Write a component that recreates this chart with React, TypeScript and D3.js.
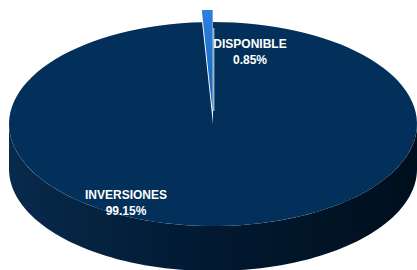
import * as d3 from "d3";
import React from "react";

// chart data
const categories = ["INVERSIONES", "DISPONIBLE"];
const values = [99.15, 0.85];
const percentLabels = ["99.15%", "0.85%"];
const sliceColors = ["#02305a", "#1a6fcf"];

const width = 417;
const height = 270;

const App = () => {
  const cx = 213;
  const cy = 124;
  const rx = 204;
  const ry = 102;
  const depth = 45;
  const explode = 12;

  const pie = d3.pie<number>().sort(null).startAngle(0).endAngle(2 * Math.PI);
  const arcs = pie(values);

  // project an angle (0 = top, clockwise) onto the tilted ellipse
  const px = (a: number, r = 1) => cx + rx * r * Math.sin(a);
  const py = (a: number, r = 1) => cy - ry * r * Math.cos(a);

  const rim = (a0: number, a1: number, dy = 0, n = 120) =>
    d3.range(n + 1).map((i) => {
      const a = a0 + ((a1 - a0) * i) / n;
      return [px(a), py(a) + dy] as [number, number];
    });

  const line = d3.line();

  const topFace = (a0: number, a1: number, ox = 0, oy = 0) => {
    const pts = rim(a0, a1).map(([x, y]) => [x + ox, y + oy] as [number, number]);
    return line([[cx + ox, cy + oy], ...pts]) + "Z";
  };

  // front side wall of the big slice
  const main = arcs[0];
  const s0 = Math.max(main.startAngle, Math.PI / 2);
  const s1 = Math.min(main.endAngle, (3 * Math.PI) / 2);
  const sidePath =
    line([...rim(s0, s1), ...rim(s0, s1, depth).reverse()]) + "Z";

  const small = arcs[1];
  const mid = (small.startAngle + small.endAngle) / 2;
  const ox = explode * Math.sin(mid);
  const oy = -explode * Math.cos(mid);

  const labelPos = [
    { x: 126, y: 199 },
    { x: 250, y: 48 },
  ];

  return (
    <svg
      width={width}
      height={height}
      style={{ position: "absolute", left: 0, top: 0 }}
    >
      <defs>
        <linearGradient id="side" x1="0" x2="1" y1="0" y2="0">
          <stop offset="0%" stopColor="#082a4c" />
          <stop offset="45%" stopColor="#021a33" />
          <stop offset="100%" stopColor="#000f1d" />
        </linearGradient>
        <linearGradient id="blue" x1="0" x2="0" y1="0" y2="1">
          <stop offset="0%" stopColor="#2a80dc" />
          <stop offset="100%" stopColor="#1463bd" />
        </linearGradient>
      </defs>
      <rect width={width} height={height} fill="#ffffff" />
      <path d={sidePath} fill="url(#side)" />
      <path d={topFace(main.startAngle, main.endAngle)} fill={sliceColors[0]} />
      <path
        d={topFace(small.startAngle, small.endAngle, ox, oy)}
        fill="url(#blue)"
      />
      <line
        x1={cx + 0.8}
        y1={cy - 13}
        x2={px(0) + 0.8}
        y2={py(0) + 6}
        stroke="#ffffff"
        strokeWidth={0.9}
      />
      {categories.map((c, i) => (
        <text
          key={c}
          x={labelPos[i].x}
          y={labelPos[i].y}
          textAnchor="middle"
          fill="#ffffff"
          fontFamily="'Liberation Sans', Arial, sans-serif"
          fontWeight="bold"
          fontSize={12}
        >
          <tspan x={labelPos[i].x}>{c}</tspan>
          <tspan x={labelPos[i].x} dy={16}>
            {percentLabels[i]}
          </tspan>
        </text>
      ))}
    </svg>
  );
};

export default App;
